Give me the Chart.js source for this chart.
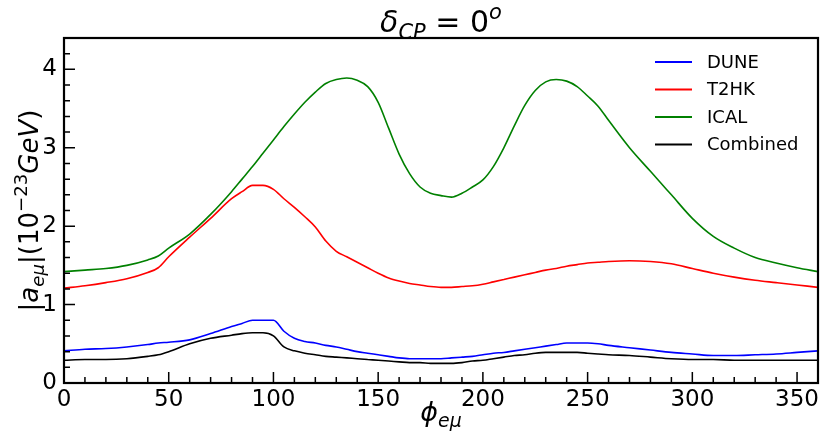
<!DOCTYPE html>
<html>
<head>
<meta charset="utf-8">
<script src="https://cdn.jsdelivr.net/npm/chart.js@4.4.1/dist/chart.umd.min.js"></script>
<style>
html, body { margin: 0; padding: 0; background: #fff; }
#wrap { width: 831px; height: 442px; }
</style>
</head>
<body>
<div id="wrap"><canvas id="chartAemu"></canvas></div>
<script>
// phi_emu (degrees)
var phi = [0, 10, 20, 30, 40, 45, 50, 60, 70, 80,
    85, 90, 95, 100, 105, 110, 115, 120, 125, 130,
    135, 140, 145, 150, 155, 160, 165, 170, 175, 180,
    185, 190, 195, 200, 205, 210, 215, 220, 225, 230,
    235, 240, 245, 250, 255, 260, 270, 280, 290, 300,
    310, 320, 330, 340, 350, 360];

// |a_emu| in 10^-23 GeV
var dune = [0.41, 0.43, 0.44, 0.46, 0.49, 0.51, 0.52, 0.55, 0.63, 0.72,
    0.76, 0.80, 0.80, 0.80, 0.66, 0.57, 0.53, 0.51, 0.48, 0.46,
    0.43, 0.40, 0.38, 0.36, 0.34, 0.32, 0.31, 0.31, 0.31, 0.31,
    0.32, 0.33, 0.34, 0.36, 0.38, 0.39, 0.41, 0.43, 0.45, 0.47,
    0.49, 0.51, 0.51, 0.51, 0.50, 0.48, 0.45, 0.42, 0.39, 0.37,
    0.35, 0.35, 0.36, 0.37, 0.39, 0.41];

var t2hk = [1.21, 1.24, 1.28, 1.33, 1.41, 1.47, 1.61, 1.86, 2.10, 2.35,
    2.44, 2.52, 2.52, 2.47, 2.35, 2.24, 2.12, 1.99, 1.81, 1.68,
    1.61, 1.54, 1.47, 1.40, 1.34, 1.30, 1.27, 1.25, 1.23, 1.22,
    1.22, 1.23, 1.24, 1.26, 1.29, 1.32, 1.35, 1.38, 1.41, 1.44,
    1.46, 1.49, 1.51, 1.53, 1.54, 1.55, 1.56, 1.55, 1.52, 1.46,
    1.40, 1.35, 1.31, 1.28, 1.25, 1.22];

var ical = [1.42, 1.44, 1.46, 1.50, 1.57, 1.62, 1.72, 1.90, 2.15, 2.44,
    2.60, 2.76, 2.93, 3.10, 3.27, 3.43, 3.58, 3.71, 3.82, 3.87,
    3.89, 3.86, 3.78, 3.58, 3.25, 2.92, 2.67, 2.50, 2.42, 2.39,
    2.37, 2.42, 2.50, 2.59, 2.76, 3.00, 3.28, 3.54, 3.73, 3.84,
    3.87, 3.85, 3.78, 3.66, 3.53, 3.35, 3.00, 2.70, 2.40, 2.10,
    1.87, 1.72, 1.60, 1.53, 1.47, 1.42];

var combined = [0.29, 0.30, 0.30, 0.31, 0.34, 0.36, 0.40, 0.50, 0.57, 0.61,
    0.63, 0.64, 0.64, 0.60, 0.46, 0.41, 0.38, 0.36, 0.34, 0.33,
    0.32, 0.31, 0.30, 0.29, 0.28, 0.27, 0.26, 0.26, 0.25, 0.25,
    0.25, 0.26, 0.28, 0.29, 0.31, 0.33, 0.35, 0.36, 0.38, 0.39,
    0.39, 0.39, 0.39, 0.38, 0.37, 0.36, 0.35, 0.33, 0.31, 0.30,
    0.30, 0.29, 0.29, 0.29, 0.29, 0.29];

var xTicks = [0, 50, 100, 150, 200, 250, 300, 350];
var yTicks = [0, 1, 2, 3, 4];

var FONT = '"DejaVu Sans", sans-serif';

function serie(label, values, color) {
    return {
        label: label,
        data: phi.map(function (p, i) { return { x: p, y: values[i] }; }),
        borderColor: color,
        backgroundColor: color,
        borderWidth: 1.6,
        pointRadius: 0,
        cubicInterpolationMode: 'monotone',
        fill: false
    };
}

// draws text pieces with italic / sub / superscript, centred on (x, y)
function richText(ctx, parts, x, y, size, angle) {
    function font(p) {
        var s = p.pos ? size * 0.7 : size;
        return (p.it ? 'italic ' : '') + s + 'px ' + FONT;
    }
    var w = 0;
    parts.forEach(function (p) { ctx.font = font(p); w += ctx.measureText(p.t).width; });
    ctx.save();
    ctx.translate(x, y);
    ctx.rotate(angle || 0);
    ctx.textBaseline = 'alphabetic';
    ctx.textAlign = 'left';
    ctx.fillStyle = '#000';
    var cx = -w / 2;
    parts.forEach(function (p) {
        ctx.font = font(p);
        var dy = p.pos === -1 ? size * 0.22 : (p.pos === 1 ? -size * 0.42 : 0);
        ctx.fillText(p.t, cx, dy);
        cx += ctx.measureText(p.t).width;
    });
    ctx.restore();
}

var decor = {
    id: 'decor',
    afterDraw: function (chart) {
        var ctx = chart.ctx, a = chart.chartArea;
        var xs = chart.scales.x, ys = chart.scales.y;
        ctx.save();
        ctx.strokeStyle = '#000';
        ctx.lineWidth = 1.5;
        ctx.beginPath();
        for (var v = 0; v <= 360; v += 10) {
            var px = xs.getPixelForValue(v);
            var len = v % 50 === 0 ? 11 : 6;
            ctx.moveTo(px, a.bottom);
            ctx.lineTo(px, a.bottom - len);
        }
        for (var k = 0; k <= 22; k++) {
            var py = ys.getPixelForValue(k * 0.2);
            var l = k % 5 === 0 ? 11 : 6;
            ctx.moveTo(a.left, py);
            ctx.lineTo(a.left + l, py);
        }
        ctx.stroke();
        ctx.lineWidth = 2.2;
        ctx.strokeRect(a.left, a.top, a.right - a.left, a.bottom - a.top);

        // legend
        ctx.font = '18px ' + FONT;
        ctx.textBaseline = 'middle';
        ctx.textAlign = 'left';
        chart.data.datasets.forEach(function (ds, i) {
            var ry = 62 + i * 27.5;
            ctx.strokeStyle = ds.borderColor;
            ctx.lineWidth = 1.8;
            ctx.beginPath();
            ctx.moveTo(655, ry);
            ctx.lineTo(692, ry);
            ctx.stroke();
            ctx.fillStyle = '#000';
            ctx.fillText(ds.label, 707, ry + 1);
        });
        ctx.restore();

        // title and axis labels
        richText(ctx, [
            { t: 'δ', it: true }, { t: 'CP', it: true, pos: -1 },
            { t: ' = 0' }, { t: 'o', it: true, pos: 1 }
        ], (a.left + a.right) / 2, 32, 30);
        richText(ctx, [
            { t: 'ϕ', it: true }, { t: 'eμ', it: true, pos: -1 }
        ], (a.left + a.right) / 2, 421, 27);
        richText(ctx, [
            { t: '|' }, { t: 'a', it: true }, { t: 'eμ', it: true, pos: -1 },
            { t: '|(10' }, { t: '−23', pos: 1 }, { t: 'GeV', it: true }, { t: ')' }
        ], 38, (a.top + a.bottom) / 2, 26, -Math.PI / 2);
    }
};

var ctx = document.getElementById('chartAemu').getContext('2d');

var myChart = new Chart(ctx, {
    type: 'line',
    data: {
        datasets: [
            serie('DUNE', dune, '#0000ff'),
            serie('T2HK', t2hk, '#ff0000'),
            serie('ICAL', ical, '#008000'),
            serie('Combined', combined, '#000000')
        ]
    },
    options: {
        responsive: true,
        maintainAspectRatio: false,
        animation: false,
        layout: { padding: { left: 0, top: 38, right: 13, bottom: 0 } },
        plugins: {
            legend: { display: false },
            title: { display: false },
            tooltip: { enabled: false }
        },
        scales: {
            x: {
                type: 'linear',
                min: 0,
                max: 360,
                grid: { display: false, drawTicks: false },
                border: { display: false },
                afterFit: function (s) { s.height = 59; },
                afterBuildTicks: function (s) { s.ticks = xTicks.map(function (v) { return { value: v }; }); },
                ticks: { color: '#000', padding: 3, maxRotation: 0, font: { family: FONT, size: 23 } }
            },
            y: {
                min: 0,
                max: 4.4,
                grid: { display: false, drawTicks: false },
                border: { display: false },
                afterFit: function (s) { s.width = 64; },
                afterBuildTicks: function (s) { s.ticks = yTicks.map(function (v) { return { value: v }; }); },
                ticks: { color: '#000', padding: 7, font: { family: FONT, size: 23 } }
            }
        }
    },
    plugins: [decor]
});
</script>
</body>
</html>
